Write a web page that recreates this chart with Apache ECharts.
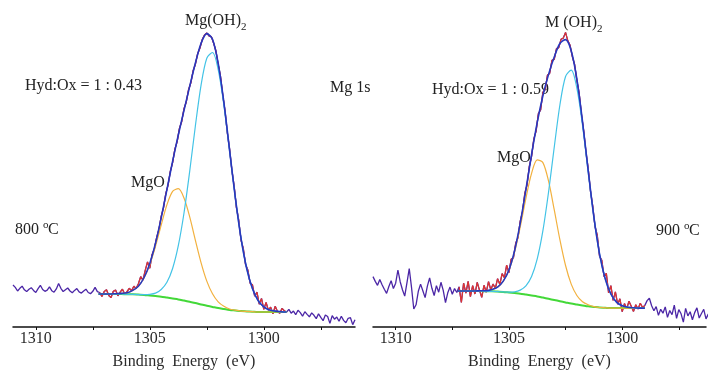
<!DOCTYPE html>
<html>
<head>
<meta charset="utf-8">
<script src="https://cdn.jsdelivr.net/npm/echarts@6/dist/echarts.min.js"></script>
<style>
  html, body { margin: 0; padding: 0; background: #ffffff; }
  #chart { width: 708px; height: 375px; }
</style>
</head>
<body>
<div id="chart"></div>
<script>
// Mg 1s XPS spectra of MgO/Mg(OH)2 annealed at 800 °C and 900 °C.
// Raw spectra are sampled every 0.1 eV from 1311.0 eV downwards,
// fitted curves every 0.25 eV from 1307.25 eV downwards.
const RAW_START = 1311.0, RAW_STEP = 0.1;
const FIT_START = 1307.25, FIT_STEP = 0.25;
const FIT_FROM = 38, FIT_TO = 120;   // raw points inside the fitting window (red)

const tickValues = [1310, 1307.5, 1305, 1302.5, 1300, 1297.5];
const labelValues = [1310, 1305, 1300];

// ---- 800 °C ----
const raw800 = [
  14.0, 13.2, 12.0, 12.9, 13.6, 12.4, 11.8, 12.6, 13.1, 12.2,
  11.5, 12.8, 13.9, 12.5, 11.9, 12.3, 13.4, 12.1, 11.6, 12.7,
  14.5, 12.9, 11.8, 12.4, 13.0, 12.0, 11.4, 12.2, 12.8, 11.7,
  11.3, 12.0, 12.6, 11.5, 11.1, 11.9, 13.2, 11.8,
  11.5, 10.2, 11.8, 12.4, 10.5, 9.8, 11.9, 12.3, 10.4, 11.6,
  12.6, 11.0, 11.8, 12.9, 12.1, 13.6, 12.8, 14.4, 16.8, 15.6,
  18.9, 21.7, 19.6, 24.1, 26.0, 29.8, 32.5, 36.9, 39.7, 44.4,
  47.3, 51.9, 54.8, 59.3, 61.8, 66.2, 68.5, 72.8, 75.0, 79.1,
  81.4, 85.4, 87.6, 91.1, 93.0, 95.8, 97.3, 98.0, 97.0, 96.8,
  94.6, 92.0, 87.5, 83.6, 77.3, 72.0, 64.8, 59.3, 52.3, 46.9,
  39.8, 35.6, 29.0, 26.2, 20.8, 19.0, 14.6, 14.1, 10.3, 11.6,
  7.6, 9.5, 5.9, 8.2, 5.6, 6.6, 4.4, 6.9, 5.2, 4.6,
  6.2, 5.4, 5.0,
  5.9, 4.6, 5.3, 4.1, 5.6, 4.8, 3.6, 5.1, 4.2, 3.4,
  4.7, 3.9, 2.8, 4.4, 3.2, 2.1, 4.0, 3.5, 1.2, 3.8,
  2.6, 3.3, 1.9, 3.6, 2.2, 1.4, 2.9, 3.1, 0.8, 2.4
];
const bg800 = [
  11.0, 11.0, 11.0, 11.0, 11.0, 10.9, 10.9, 10.8, 10.7, 10.5,
  10.3, 10.1, 9.8, 9.5, 9.2, 8.8, 8.4, 8.0, 7.5, 7.1,
  6.7, 6.3, 6.0, 5.7, 5.5, 5.3, 5.2, 5.1, 5.0, 5.0,
  5.0, 5.0, 5.0, 5.0
];
const mgo800 = [
  11.0, 11.0, 11.0, 11.1, 11.2, 11.4, 12.2, 13.6, 16.4, 20.8,
  26.9, 34.0, 40.7, 45.2, 46.1, 43.0, 36.7, 28.9, 21.4, 15.3,
  11.1, 8.4, 6.9, 6.0, 5.6, 5.3, 5.2, 5.1, 5.0, 5.0,
  5.0, 5.0, 5.0, 5.0
];
const hyd800 = [
  11.0, 11.0, 11.0, 11.0, 11.0, 10.9, 10.9, 10.8, 10.8, 10.9,
  11.3, 12.5, 14.9, 19.5, 27.1, 38.0, 51.9, 67.1, 80.7, 89.6,
  91.5, 85.8, 73.9, 58.6, 43.1, 29.6, 19.5, 12.8, 8.8, 6.7,
  5.7, 5.3, 5.1, 5.0
];
const env800 = [
  11.0, 11.0, 11.0, 11.1, 11.2, 11.4, 12.2, 13.6, 16.5, 21.2,
  27.9, 36.4, 45.8, 55.2, 64.0, 72.2, 80.2, 88.0, 94.6, 97.8,
  95.9, 87.9, 74.8, 58.9, 43.2, 29.6, 19.5, 12.8, 8.8, 6.7,
  5.7, 5.3, 5.1, 5.0
];

// ---- 900 °C ----
const raw900 = [
  16.8, 15.2, 13.9, 15.8, 14.1, 12.6, 11.2, 13.5, 15.4, 12.8,
  14.6, 19.0, 15.1, 12.4, 10.3, 14.8, 19.5, 13.2, 6.0, 7.4,
  11.9, 14.3, 12.1, 9.8, 13.6, 16.4, 12.9, 10.5, 13.8, 11.6,
  14.9, 12.2, 8.1, 11.4, 13.3, 10.9, 12.8, 11.5,
  13.4, 8.2, 14.6, 11.3, 15.2, 10.1, 13.8, 11.0, 14.9, 12.3,
  9.9, 13.9, 11.6, 15.1, 12.4, 14.3, 12.9, 16.1, 14.2, 17.8,
  16.4, 20.6, 18.1, 22.6, 23.1, 27.9, 29.8, 35.3, 38.4, 44.5,
  47.4, 53.5, 56.9, 62.7, 65.3, 71.1, 72.4, 78.3, 79.1, 83.9,
  84.6, 88.9, 89.2, 92.8, 93.1, 95.9, 96.3, 98.2, 95.4, 93.9,
  90.1, 87.5, 82.1, 78.0, 71.0, 65.4, 58.4, 52.7, 45.4, 40.3,
  33.5, 30.6, 23.6, 22.2, 16.8, 17.9, 11.4, 13.8, 8.9, 11.7,
  7.6, 9.4, 5.1, 7.8, 6.1, 8.6, 6.9, 5.2, 7.4, 6.0,
  7.9, 6.5, 7.2,
  8.8, 9.6, 7.1, 5.4, 6.8, 3.9, 5.9, 4.6, 6.7, 3.2,
  5.5, 4.1, 7.3, 2.9, 5.8, 4.4, 1.6, 6.2, 3.7, 5.1,
  2.4, 4.8, 6.4, 3.0, 4.5, 5.9, 2.7, 4.3, 3.6, 4.9
];
const bg900 = [
  12.0, 12.0, 12.0, 12.0, 12.0, 11.9, 11.9, 11.8, 11.7, 11.5,
  11.3, 11.1, 10.8, 10.5, 10.2, 9.8, 9.4, 9.0, 8.6, 8.2,
  7.8, 7.5, 7.2, 6.9, 6.7, 6.5, 6.4, 6.3, 6.3, 6.3,
  6.3, 6.3, 6.3, 6.3
];
const mgo900 = [
  12.0, 12.0, 12.0, 12.0, 12.1, 12.1, 12.5, 13.3, 15.3, 18.9,
  25.0, 33.4, 42.9, 51.2, 55.7, 54.8, 48.6, 39.1, 29.1, 20.5,
  14.3, 10.5, 8.4, 7.4, 6.8, 6.5, 6.4, 6.3, 6.3, 6.3,
  6.3, 6.3, 6.3, 6.3
];
const hyd900 = [
  12.0, 12.0, 12.0, 12.0, 12.0, 11.9, 11.9, 11.8, 11.7, 11.6,
  11.7, 12.3, 13.7, 16.8, 22.7, 32.1, 45.0, 59.9, 74.0, 83.5,
  85.6, 79.6, 67.2, 51.6, 36.6, 24.4, 16.1, 11.0, 8.3, 7.1,
  6.6, 6.4, 6.3, 6.3
];
const env900 = [
  12.0, 12.0, 12.0, 12.0, 12.1, 12.1, 12.5, 13.3, 15.3, 19.0,
  25.4, 34.6, 45.8, 57.5, 68.2, 77.1, 84.2, 90.0, 94.5, 95.8,
  92.1, 82.6, 68.4, 52.1, 36.7, 24.4, 16.1, 11.0, 8.3, 7.1,
  6.6, 6.4, 6.3, 6.3
];

const COLORS = {
  raw: '#4b26a6',
  rawFit: '#e2352e',
  bg: '#43d838',
  mgo: '#f2b13f',
  hyd: '#43c3e6',
  env: '#2738bf'
};
const SERIF = '"Liberation Serif", "Times New Roman", serif';

function rawPoints(values, from, to) {
  const pts = [];
  for (let i = from; i <= to; i++) {
    pts.push([+(RAW_START - RAW_STEP * i).toFixed(2), values[i]]);
  }
  return pts;
}
function fitPoints(values) {
  return values.map((v, i) => [+(FIT_START - FIT_STEP * i).toFixed(2), v]);
}

function panelSeries(idx, raw, bg, mgo, hyd, env) {
  const base = { type: 'line', xAxisIndex: idx, yAxisIndex: idx, symbol: 'none',
                 showSymbol: false, animation: false, silent: true };
  return [
    Object.assign({}, base, { data: rawPoints(raw, 0, raw.length - 1),
      lineStyle: { color: COLORS.raw, width: 1.3 }, z: 2 }),
    Object.assign({}, base, { data: rawPoints(raw, FIT_FROM, FIT_TO),
      lineStyle: { color: COLORS.rawFit, width: 1.2 }, z: 3 }),
    Object.assign({}, base, { data: fitPoints(bg), smooth: 0.3,
      lineStyle: { color: COLORS.bg, width: 2 }, z: 4 }),
    Object.assign({}, base, { data: fitPoints(mgo), smooth: 0.3,
      lineStyle: { color: COLORS.mgo, width: 1.2 }, z: 5 }),
    Object.assign({}, base, { data: fitPoints(hyd), smooth: 0.3,
      lineStyle: { color: COLORS.hyd, width: 1.2 }, z: 6 }),
    Object.assign({}, base, { data: fitPoints(env), smooth: 0.3,
      lineStyle: { color: COLORS.env, width: 1.6 }, z: 7 })
  ];
}

function xAxisFor(idx, min, max) {
  return {
    type: 'value', gridIndex: idx, min: min, max: max, inverse: true,
    splitLine: { show: false },
    axisLine: { show: true, onZero: false, lineStyle: { color: '#111', width: 1.5 } },
    axisTick: { show: true, length: 3, customValues: tickValues,
                lineStyle: { color: '#111', width: 1 } },
    axisLabel: { show: true, customValues: labelValues, margin: 4,
                 formatter: v => String(v),
                 fontFamily: SERIF, fontSize: 16, color: '#2a2a2a' },
    name: 'Binding  Energy  (eV)', nameLocation: 'middle', nameGap: 27,
    nameTextStyle: { fontFamily: SERIF, fontSize: 16, color: '#2a2a2a' }
  };
}
function yAxisFor(idx) {
  return { type: 'value', gridIndex: idx, min: 0, max: 100, show: false };
}

function txt(x, y, s, size) {
  return { type: 'text', x: x, y: y, silent: true,
           style: { text: s, fontFamily: SERIF, fontSize: size || 16, fill: '#222',
                    textAlign: 'left', textVerticalAlign: 'middle' } };
}

const chart = echarts.init(document.getElementById('chart'), null, { renderer: 'canvas' });
chart.setOption({
  backgroundColor: '#ffffff',
  animation: false,
  grid: [
    { left: 13, top: 27, width: 342, height: 300 },
    { left: 373, top: 27, width: 333, height: 300 }
  ],
  xAxis: [xAxisFor(0, 1296, 1311), xAxisFor(1, 1296.3, 1311)],
  yAxis: [yAxisFor(0), yAxisFor(1)],
  series: panelSeries(0, raw800, bg800, mgo800, hyd800, env800)
    .concat(panelSeries(1, raw900, bg900, mgo900, hyd900, env900)),
  graphic: [
    txt(185, 21, 'Mg(OH)'), txt(241, 27, '2', 11),
    txt(25, 86, 'Hyd:Ox = 1 : 0.43'),
    txt(330, 88, 'Mg 1s'),
    txt(131, 183, 'MgO'),
    txt(15, 230, '800'), txt(43, 225, 'o', 11), txt(48, 230, 'C'),
    txt(545, 23, 'M (OH)'), txt(597, 29, '2', 11),
    txt(432, 90, 'Hyd:Ox = 1 : 0.59'),
    txt(497, 158, 'MgO'),
    txt(656, 231, '900'), txt(684, 226, 'o', 11), txt(689, 231, 'C')
  ]
});
</script>
</body>
</html>
